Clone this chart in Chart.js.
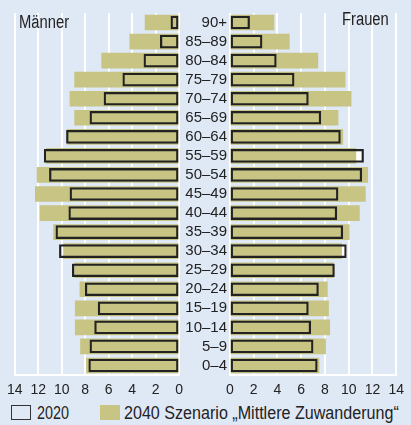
<!DOCTYPE html>
<html>
<head>
<meta charset="utf-8">
<script src="https://cdn.jsdelivr.net/npm/chart.js@4/dist/chart.umd.min.js"></script>
<style>
  body { margin: 0; }
  #wrap { position: relative; width: 411px; height: 425px; background: #dfe8f5; overflow: hidden;
          font-family: 'Liberation Sans', Arial, sans-serif; color: #222; }
  canvas { position: absolute; top: 0; }
  .lbl { position: absolute; font-size: 18px; line-height: 18px; white-space: nowrap;
         transform: scaleX(0.82); transform-origin: 0 0; }
  .box { position: absolute; width: 20px; height: 15px; box-sizing: border-box; }
</style>
</head>
<body>
<div id="wrap">
  <canvas id="men" width="190" height="400" style="left:0"></canvas>
  <canvas id="women" width="231" height="400" style="left:180px"></canvas>
  <div class="lbl" style="left:19px; top:13px">Männer</div>
  <div class="lbl" style="left:342px; top:10px">Frauen</div>
  <div class="box" style="left:11px; top:405px; border:1.5px solid #333"></div>
  <div class="lbl" style="left:37px; top:404px; font-size:17.5px">2020</div>
  <div class="box" style="left:100px; top:405px; background:#c7c484"></div>
  <div class="lbl" style="left:124px; top:404px; font-size:17.5px; transform:scaleX(0.92)">2040 Szenario „Mittlere Zuwanderung“</div>
</div>
<script>
// Age groups, youngest first (y axis is reversed so 90+ sits on top)
const ages = ['0–4', '5–9', '10–14', '15–19', '20–24', '25–29', '30–34', '35–39', '40–44',
              '45–49', '50–54', '55–59', '60–64', '65–69', '70–74', '75–79', '80–84', '85–89', '90+'];

const men2020 = [7.7, 7.6, 7.2, 6.9, 8.0, 9.1, 10.2, 10.5, 9.4, 9.3, 11.05, 11.5, 9.6, 7.6, 6.4, 4.8, 3.0, 1.6, 0.7];
const men2040 = [7.9, 8.4, 8.85, 8.85, 8.45, 8.9, 9.85, 10.7, 11.85, 12.25, 12.1, 11.3, 9.5, 8.9, 9.3, 8.9, 6.6, 4.2, 2.9];
const women2020 = [7.35, 7.0, 6.8, 6.6, 7.45, 8.8, 9.8, 9.5, 9.0, 9.1, 11.1, 11.25, 9.3, 7.65, 6.6, 5.4, 3.9, 2.7, 1.65];
const women2040 = [7.5, 8.05, 8.4, 8.3, 8.2, 8.7, 9.4, 10.05, 10.9, 11.4, 11.6, 10.6, 9.5, 9.1, 10.2, 9.7, 7.4, 5.0, 3.7];

const KHAKI = '#c7c484';
const INK = '#222';

Chart.defaults.font.family = "'Liberation Sans', Arial, sans-serif";
Chart.defaults.color = INK;

// dataset 0 is painted last, so the 2020 outline goes first
function datasets(d2020, d2040) {
    return [
        { data: d2020, backgroundColor: 'rgba(0,0,0,0)', borderColor: INK, borderWidth: 1.6,
          borderSkipped: false, barThickness: 13, grouped: false },
        { data: d2040, backgroundColor: KHAKI, borderWidth: 0, barThickness: 15, grouped: false },
        { data: d2020, backgroundColor: '#ffffff', borderWidth: 0, barThickness: 13, grouped: false }
    ];
}

function xScale(reverse) {
    return {
        min: 0, max: 14, reverse: reverse,
        grid: { color: '#ffffff', lineWidth: 2, drawTicks: false },
        border: { display: true, color: '#ffffff', width: 2 },
        ticks: { stepSize: 2, padding: 7, font: { size: 14 }, color: INK,
                 autoSkip: false, maxRotation: 0, minRotation: 0 },
        afterFit: s => { s.height = 25; }
    };
}

const common = {
    indexAxis: 'y',
    responsive: false,
    animation: false,
    plugins: { legend: { display: false }, tooltip: { enabled: false } }
};

new Chart(document.getElementById('men'), {
    type: 'bar',
    data: { labels: ages, datasets: datasets(men2020, men2040) },
    options: {
        ...common,
        layout: { padding: { left: 8, right: 8, top: 13 } },
        scales: {
            x: xScale(true),
            y: { display: false, reverse: true }
        }
    }
});

new Chart(document.getElementById('women'), {
    type: 'bar',
    data: { labels: ages, datasets: datasets(women2020, women2040) },
    options: {
        ...common,
        layout: { padding: { left: 0, right: 6, top: 13 } },
        scales: {
            x: xScale(false),
            y: {
                reverse: true,
                grid: { display: false, drawTicks: false, tickLength: 0 },
                border: { display: false },
                ticks: { padding: 3, font: { size: 15 }, color: INK, autoSkip: false },
                afterFit: s => { s.width = 50; }
            }
        }
    }
});
</script>
</body>
</html>
